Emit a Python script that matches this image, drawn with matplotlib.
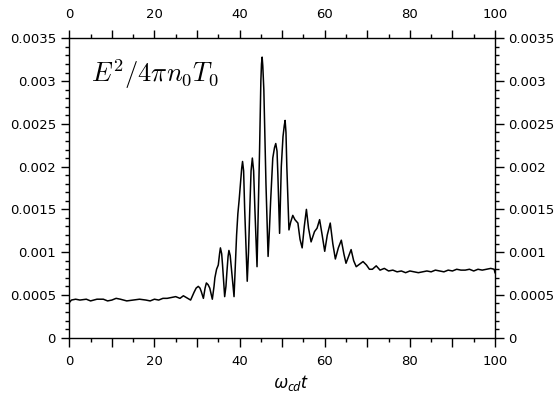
import matplotlib
matplotlib.use("Agg")
import matplotlib.pyplot as plt
from matplotlib.ticker import MultipleLocator, FuncFormatter

plt.rcParams['font.family'] = ['DejaVu Sans']
plt.rcParams['mathtext.fontset'] = 'custom'
plt.rcParams['mathtext.it'] = 'Noto Sans:italic'
plt.rcParams['mathtext.rm'] = 'Noto Sans'

# (omega_cd t, E^2/4 pi n0 T0) samples
baseline_samples = [
    (0, 0.00041), (0.5, 0.00044), (1.5, 0.00045), (2.5, 0.00044), (4, 0.00045),
    (5, 0.00043), (6.5, 0.00045), (8, 0.00045), (9, 0.00043), (10, 0.00044),
    (11, 0.00046), (12, 0.00045), (13.5, 0.00043), (15, 0.00044), (16.5, 0.00045),
    (18, 0.00044), (19, 0.00043), (20, 0.00045), (21, 0.00044), (22, 0.00046),
    (23, 0.00046), (24, 0.00047), (25, 0.00048), (26, 0.00046), (26.8, 0.00049),
    (27.5, 0.00047), (28.5, 0.00044), (29.3, 0.00053), (29.8, 0.00058),
]
burst_samples = [
    (30.3, 0.00060), (30.7, 0.00058), (31.0, 0.00054), (31.5, 0.00046), (31.9, 0.00058),
    (32.2, 0.00064), (32.6, 0.00062), (33.0, 0.00058), (33.6, 0.00045), (34.0, 0.00060),
    (34.2, 0.00070), (34.6, 0.00080), (35.0, 0.00085), (35.3, 0.00098), (35.5, 0.00105),
    (35.8, 0.00098), (36.0, 0.00085), (36.5, 0.00048), (36.8, 0.00060), (37.0, 0.00075),
    (37.3, 0.00095), (37.5, 0.00102), (37.8, 0.00096), (38.1, 0.00080), (38.7, 0.00048),
    (39.0, 0.00085), (39.3, 0.00120), (39.6, 0.00145), (39.9, 0.00161), (40.2, 0.00180),
    (40.5, 0.00198), (40.7, 0.00206), (40.95, 0.00195), (41.2, 0.00150), (41.8, 0.00066),
    (42.1, 0.00100), (42.4, 0.00150), (42.7, 0.00195), (43.0, 0.00210), (43.3, 0.00195),
    (43.6, 0.00150), (44.1, 0.00083), (44.4, 0.00150), (44.7, 0.00220), (45.0, 0.00300),
    (45.15, 0.00320), (45.3, 0.00328), (45.45, 0.00318), (45.7, 0.00290), (46.2, 0.00180),
    (46.7, 0.00095), (47.0, 0.00125), (47.3, 0.00160), (47.8, 0.00210), (48.2, 0.00222),
    (48.5, 0.00227), (48.8, 0.00218), (49.0, 0.00190), (49.4, 0.00122), (49.8, 0.00200),
    (50.2, 0.00235), (50.5, 0.00248), (50.7, 0.00254), (50.9, 0.00240), (51.1, 0.00200),
    (51.6, 0.00126),
]
decay_samples = [
    (52.0, 0.00135), (52.5, 0.00143), (53.0, 0.00138), (53.7, 0.00134), (54.2, 0.00115),
    (54.7, 0.00105), (55.2, 0.00130), (55.7, 0.00150), (56.2, 0.00128), (56.8, 0.00112),
    (57.6, 0.00124), (58.2, 0.00128), (58.8, 0.00138), (59.4, 0.00120), (60.0, 0.00101),
    (60.6, 0.00120), (61.3, 0.00134), (61.9, 0.00110), (62.5, 0.00092), (63.2, 0.00105),
    (63.9, 0.00114), (64.5, 0.00098), (65.0, 0.00087), (65.6, 0.00095), (66.2, 0.00103),
    (66.8, 0.00090), (67.4, 0.00083), (68.2, 0.00086), (69.0, 0.00089), (69.8, 0.00085),
    (70.5, 0.00080), (71.2, 0.00080), (72.1, 0.00084), (73, 0.00079), (74, 0.00081),
]
late_samples = [
    (75, 0.00078), (76, 0.00079), (77, 0.00077), (78, 0.00078), (79, 0.00076),
    (80, 0.00078), (81, 0.00077), (82, 0.00076), (83, 0.00077), (84, 0.00078),
    (85, 0.00077), (86, 0.00079), (87, 0.00078), (88, 0.00077), (89, 0.00079),
    (90, 0.00078), (91, 0.00080), (92, 0.00079), (93, 0.00079), (94, 0.00080),
    (95, 0.00078), (96, 0.00080), (97, 0.00079), (98, 0.00080), (99, 0.00081),
    (99.8, 0.00080), (100, 0.00076),
]

x_labels_every = 20

samples = baseline_samples + burst_samples + decay_samples + late_samples
t = [s[0] for s in samples]
energy = [s[1] for s in samples]

fig = plt.figure(figsize=(5.56, 3.94), dpi=100)
ax = fig.add_axes([0.1246, 0.1429, 0.8903 - 0.1246, 0.9028 - 0.1429])
ax.plot(t, energy, color='black', lw=1.1)

ax.set_xlim(0, 100)
ax.set_ylim(0, 0.0035)

ax.xaxis.set_major_locator(MultipleLocator(10))
ax.xaxis.set_minor_locator(MultipleLocator(5))
ax.yaxis.set_major_locator(MultipleLocator(0.0005))
ax.yaxis.set_minor_locator(MultipleLocator(0.0001))

ax.xaxis.set_major_formatter(FuncFormatter(
    lambda v, p: f"{int(round(v))}" if round(v) % x_labels_every == 0 else ""))
ax.yaxis.set_major_formatter(FuncFormatter(lambda v, p: f"{round(v, 6):g}"))

ax.tick_params(which='both', direction='out', top=True, right=True,
               labeltop=True, labelright=True, colors='black', width=1.0)
ax.tick_params(which='major', length=8.5 * 0.72, labelsize=9.5)
ax.tick_params(axis='x', which='major', pad=6.5)
ax.tick_params(axis='y', which='major', pad=3.5)
ax.tick_params(which='minor', length=4 * 0.72)
for s in ax.spines.values():
    s.set_linewidth(1.0)

ax.set_xlabel(r'$\omega_{cd}t$', fontsize=13, va='baseline')
ax.xaxis.set_label_coords((291 - 69.3) / 425.7, -0.168)

ax.text(0.052, 0.855, r'$E^2/4\pi n_0T_0$', transform=ax.transAxes,
        fontsize=19, math_fontfamily='cm', ha='left', va='baseline')

fig.savefig('out.png', dpi=100)
